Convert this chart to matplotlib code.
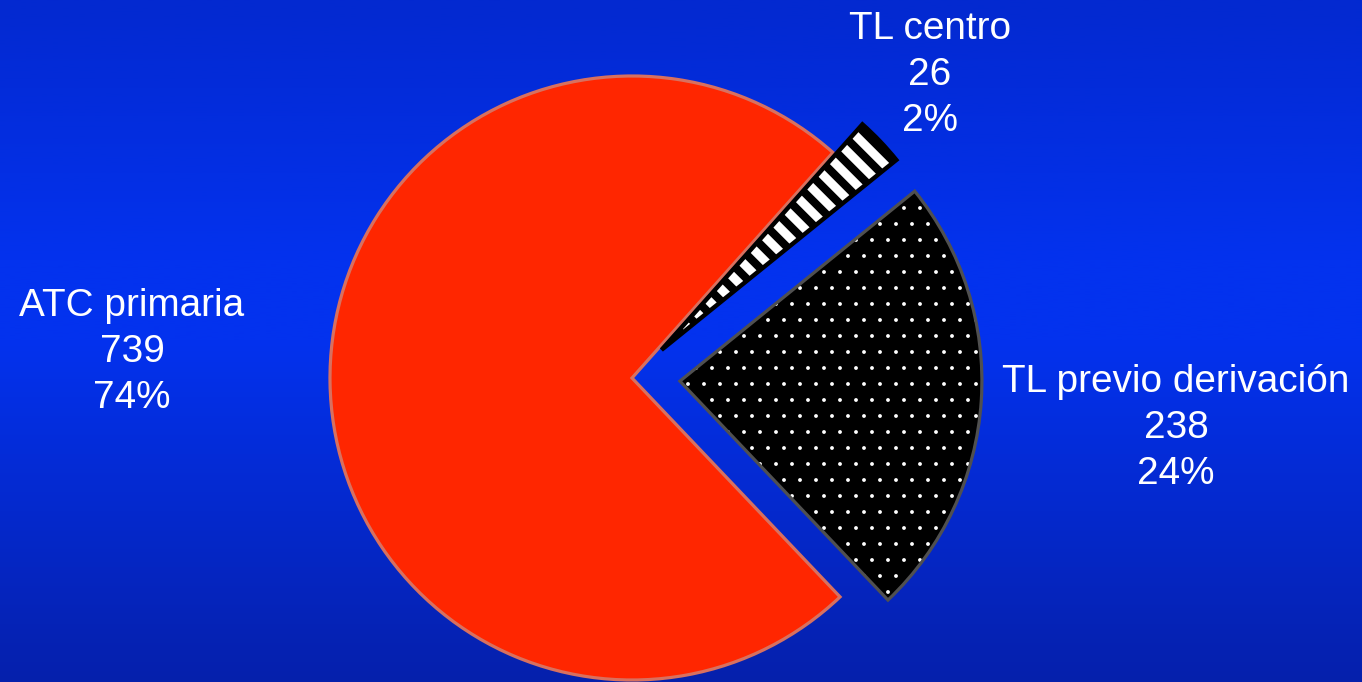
import matplotlib
matplotlib.use("Agg")
import matplotlib.pyplot as plt
import numpy as np
from matplotlib.colors import LinearSegmentedColormap

plt.rcParams['font.family'] = ['Liberation Sans', 'DejaVu Sans']

# datos
categorias = ["ATC primaria", "TL previo derivación", "TL centro"]
casos = [739, 238, 26]
porcentajes = ["74%", "24%", "2%"]

colores = ["#ff2600", "black", "black"]
tramas = ["", "...", "\\\\\\\\"]
bordes = ["#d8705f", "#505050", "black"]
separacion = [0, 0.159, 0.135]

DPI = 288
fig = plt.figure(figsize=(1362 / DPI, 682 / DPI), dpi=DPI)
ax = fig.add_axes([0, 0, 1, 1])

# fondo degradado azul
fondo = LinearSegmentedColormap.from_list(
    "fondo", [(0.0, "#0620ac"), (0.5, "#0332ee"), (0.62, "#0332ee"), (1.0, "#0329d0")])
xlim = (-632 / 302, (1362 - 632) / 302)
ylim = (-304 / 302, 378 / 302)
grad = np.linspace(0, 1, 256).reshape(-1, 1)
ax.imshow(grad, cmap=fondo, origin="lower", aspect="auto",
          extent=(xlim[0], xlim[1], ylim[0], ylim[1]), zorder=0)

# relleno con tramas (la trama toma el color del borde)
grosor_trama = [0.1, 0.15, 2.2]
for i in range(3):
    with plt.rc_context({'hatch.linewidth': grosor_trama[i]}):
        w, _ = ax.pie(casos, explode=separacion, startangle=48.3, radius=1,
                      colors=colores, hatch=tramas,
                      wedgeprops=dict(edgecolor="white", linewidth=0))
    for j, cuña in enumerate(w):
        if j != i:
            cuña.remove()
        elif hasattr(cuña, "set_hatch_linewidth"):
            cuña.set_hatch_linewidth(grosor_trama[i])

# contornos
w2, _ = ax.pie(casos, explode=separacion, startangle=48.3, radius=1,
               wedgeprops=dict(fill=False, linewidth=0.8))
for cuña, c in zip(w2, bordes):
    cuña.set_edgecolor(c)
w2[2].set_linewidth(1.1)

# etiquetas
pos_etiquetas = [(132, 352), (1176, 428), (930, 75)]
for cat, n, p, (px, py) in zip(categorias, casos, porcentajes, pos_etiquetas):
    ax.text((px - 632) / 302, (378 - py) / 302, f"{cat}\n{n}\n{p}",
            color="white", fontsize=9.7, ha="center", va="center",
            linespacing=1.36)

ax.set_xlim(*xlim)
ax.set_ylim(*ylim)
ax.set_aspect("auto")
ax.axis("off")

fig.savefig("out.png", dpi=DPI)
